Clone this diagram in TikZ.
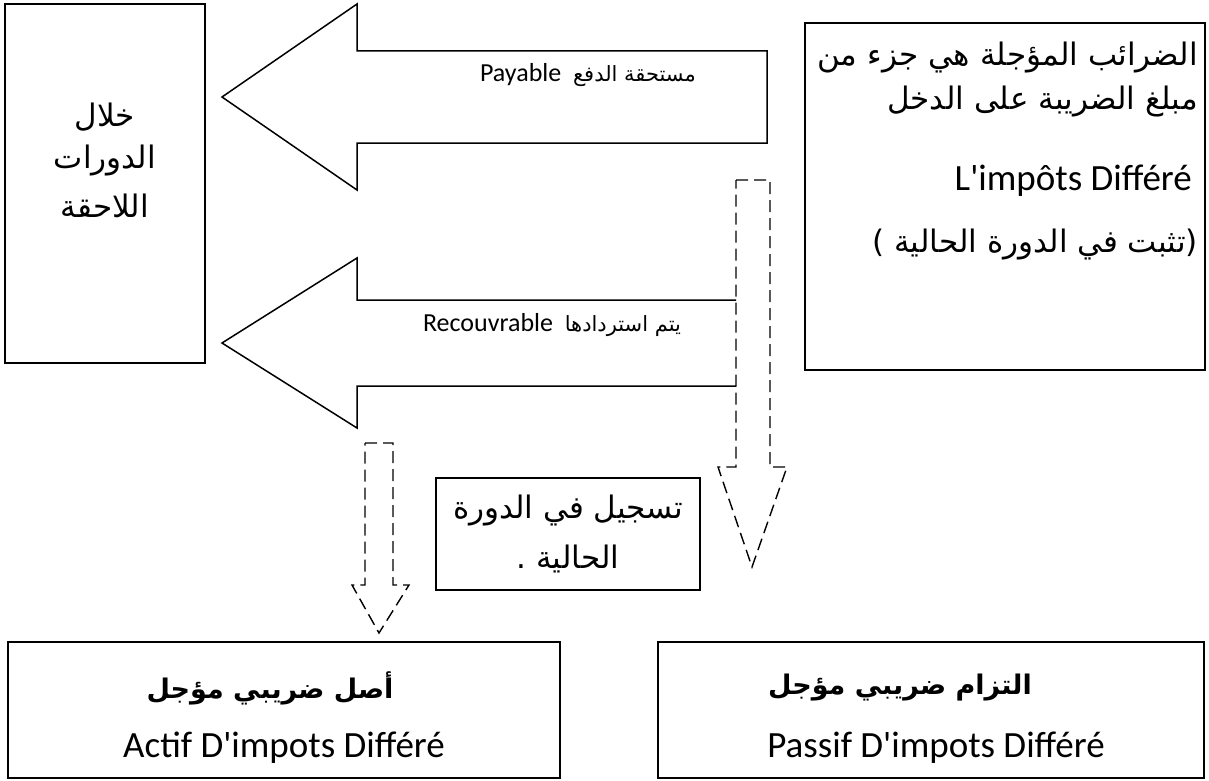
\documentclass[tikz,border=0pt]{standalone}
\usepackage{fontspec}
\setmainfont{Carlito}
\newfontfamily\ar[Script=Arabic]{DejaVu Sans}
\TeXXeTstate=1
% straight apostrophe, set as a glyph so that no quote ligature applies
\newcommand\sq{\XeTeXglyph\XeTeXcharglyph39\relax}

\begin{document}
\begin{tikzpicture}[x=1pt,y=-1pt,line join=miter,
  box/.style={draw,line width=1.5pt,rectangle,inner sep=0pt},
  blockarrow/.style={draw,line width=1.5pt},
  dasharrow/.style={draw,line width=1.4pt,dash pattern=on 12pt off 6pt},
  lbl/.style={inner sep=0pt},
  bigar/.style={lbl,font=\ar\fontsize{31}{36}\selectfont},
  boldar/.style={lbl,font=\ar\bfseries\fontsize{27}{32}\selectfont},
  biglat/.style={lbl,font=\fontsize{37}{44}\selectfont},
  smallmix/.style={lbl,font=\fontsize{26}{30}\selectfont},
]
\useasboundingbox (0,0) rectangle (1209,781);

% boxes
\node[box,minimum width=200pt,minimum height=359pt] (later) at (105,183.5) {};
\node[box,minimum width=400pt,minimum height=347pt] (deferred) at (1005,196.5) {};
\node[box,minimum width=264pt,minimum height=112pt] (record) at (568,534) {};
\node[box,minimum width=552pt,minimum height=136pt] (asset) at (284,710) {};
\node[box,minimum width=546pt,minimum height=136pt] (liab) at (931,710) {};

% block arrow: payable
\draw[blockarrow] (767,51) -- (357,51) -- (357,4) -- (222,97) -- (357,190) -- (357,143) -- (767,143) -- cycle;
% block arrow: recoverable (open at the right end)
\draw[blockarrow] (736,300) -- (357,300) -- (357,258) -- (222,343) -- (357,428) -- (357,386) -- (736,386);

% dashed arrows
\draw[dasharrow] (736,180) -- (770,180) -- (770,467) -- (787,467) -- (752,567) -- (718,467) -- (736,467) -- cycle;
\draw[dasharrow] (365,443) -- (393,443) -- (393,585) -- (409,585) -- (379,633) -- (352,585) -- (365,585) -- cycle;

% texts
\node[bigar] (l1) at (105,117) {\beginR خلال\endR};
\node[bigar] (l2) at (105,161) {\beginR الدورات\endR};
\node[bigar] (l3) at (105,206) {\beginR اللاحقة\endR};

\node[bigar,anchor=east] (d1) at (1198,58) {\beginR الضرائب المؤجلة هي جزء من\endR};
\node[bigar,anchor=east] (d2) at (1198,102) {\beginR مبلغ الضريبة على الدخل\endR};
\node[biglat,anchor=east] (d3) at (1192,181) {L\sq impôts Différé};
\node[bigar,anchor=east] (d4) at (1198,245) {\beginR (تثبت في الدورة الحالية )\endR};

\node[smallmix] (pay) at (588,75) {Payable\ \ {\ar\fontsize{21}{24}\selectfont\beginR مستحقة الدفع\endR}};
\node[smallmix] (rec) at (552,325) {Recouvrable\ \ {\ar\fontsize{21}{24}\selectfont\beginR يتم استردادها\endR}};

\node[bigar] (r1) at (568,511) {\beginR تسجيل في الدورة\endR};
\node[bigar] (r2) at (568,559) {\beginR الحالية .\endR};

\node[boldar] (a1) at (270,688) {\beginR أصل ضريبي مؤجل\endR};
\node[biglat] (a2) at (284,748) {Actif D\sq impots Différé};
\node[boldar] (p1) at (900,688) {\beginR التزام ضريبي مؤجل\endR};
\node[biglat] (p2) at (936,748) {Passif D\sq impots Différé};
\end{tikzpicture}
\end{document}
